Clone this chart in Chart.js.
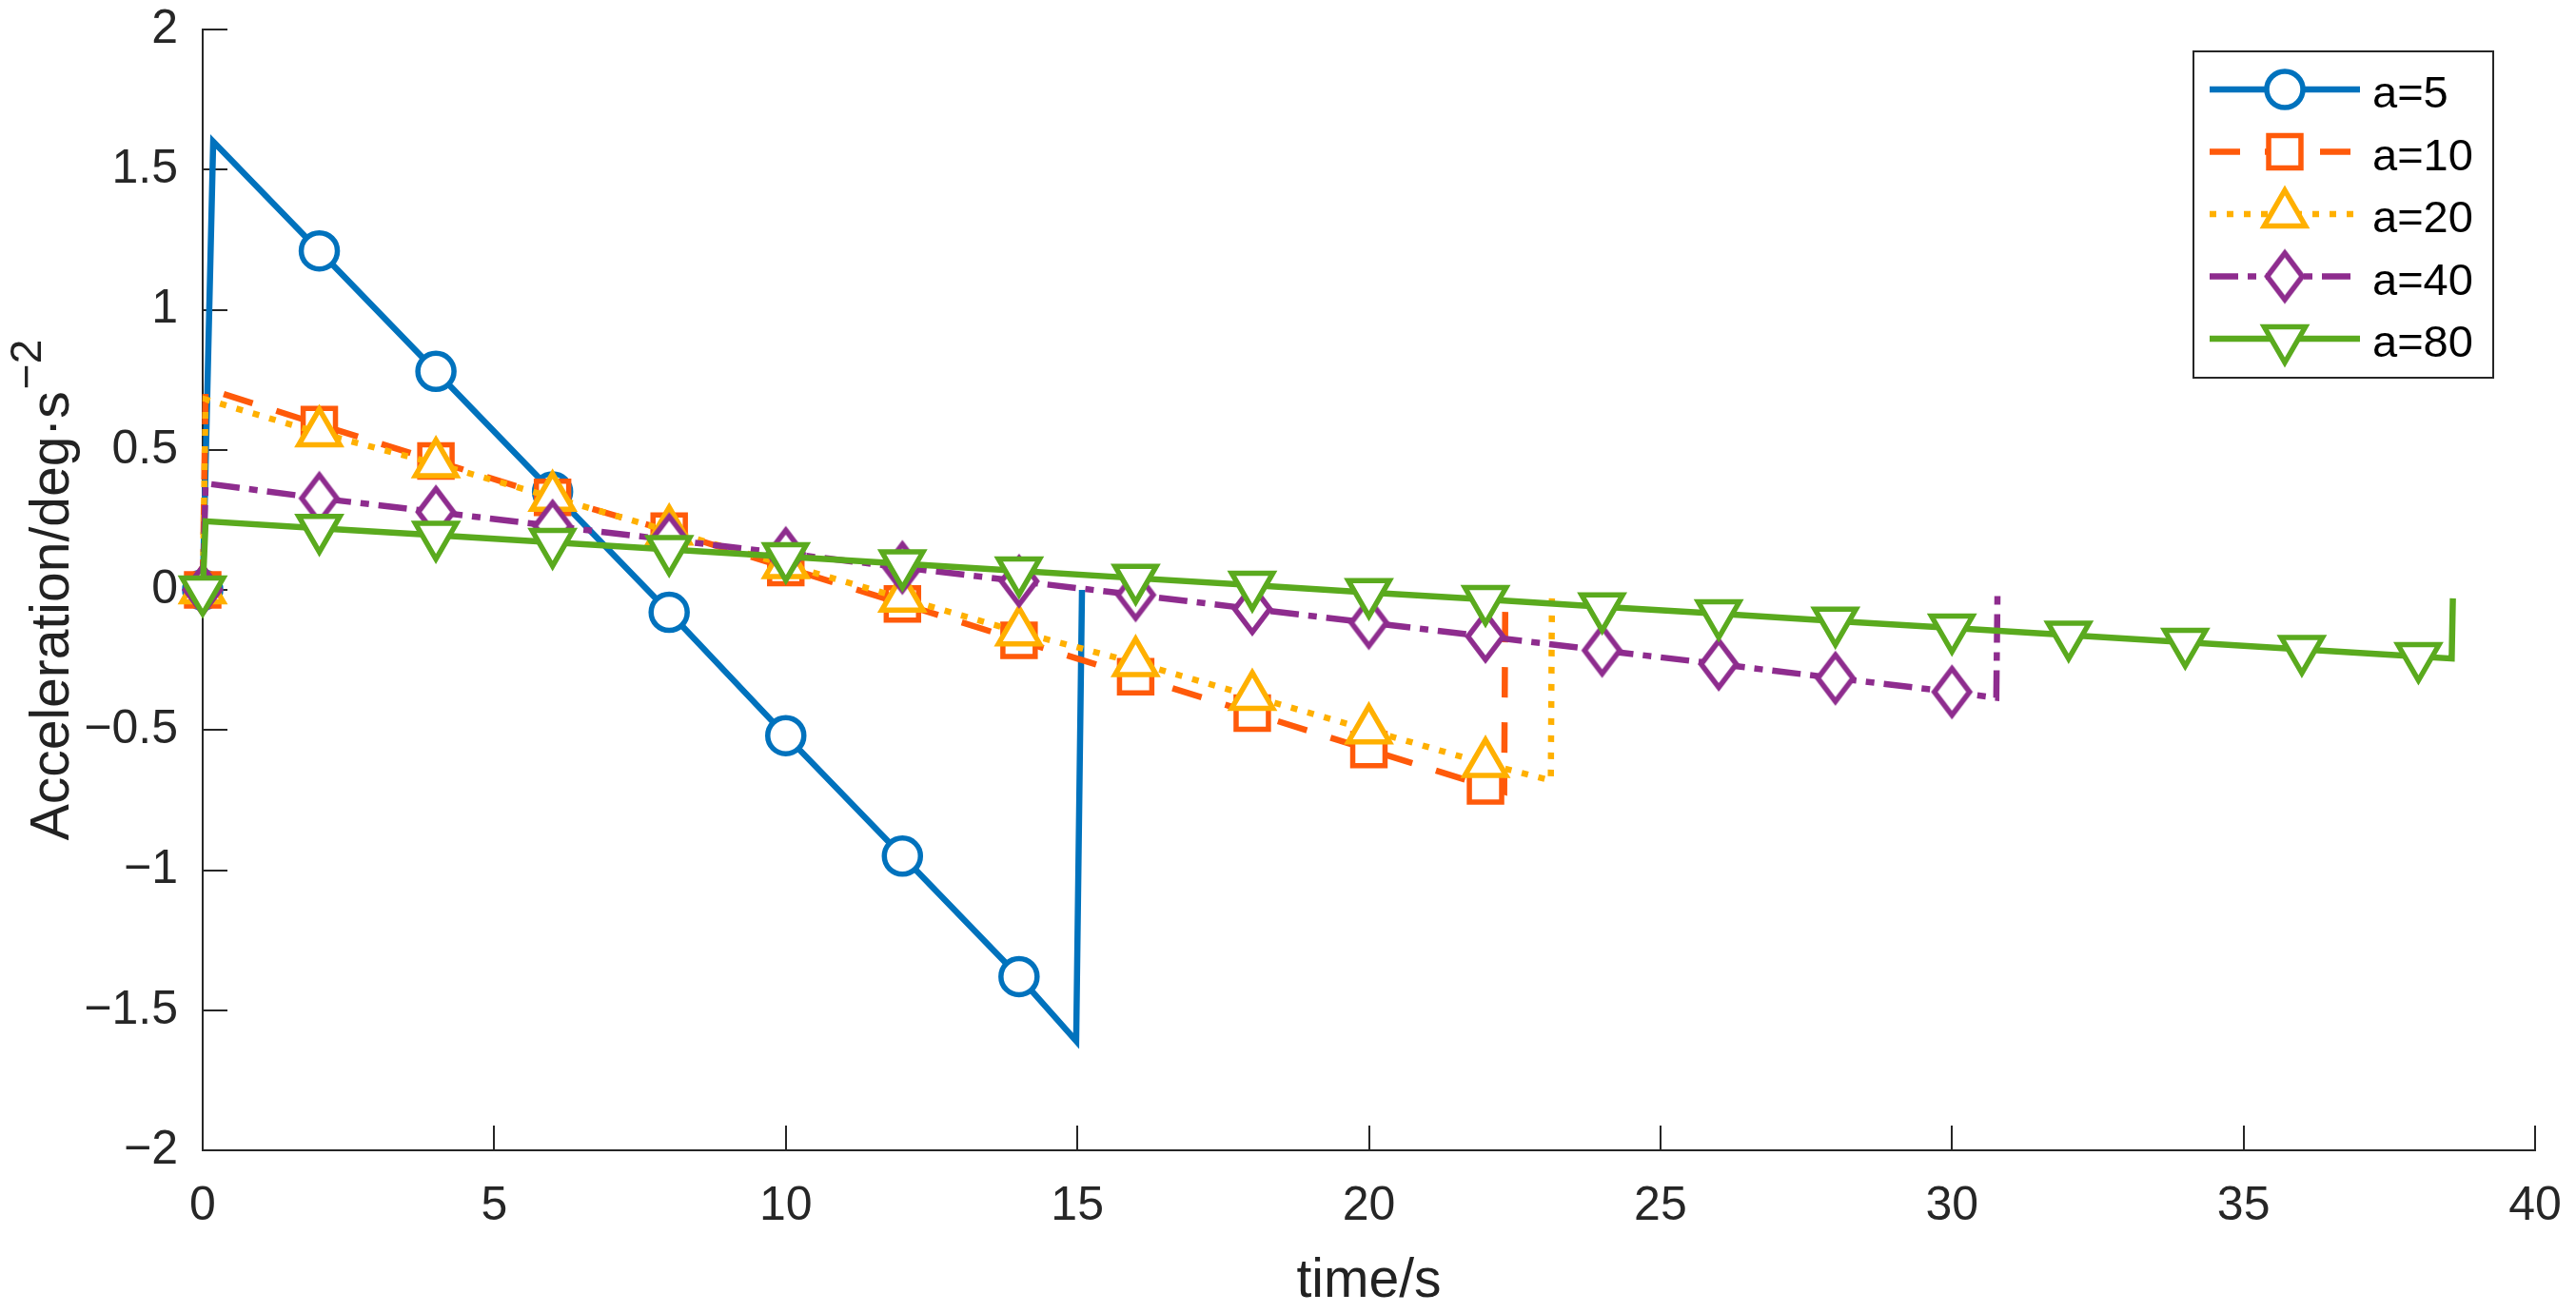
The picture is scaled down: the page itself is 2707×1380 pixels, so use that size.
<!DOCTYPE html>
<html>
<head>
<meta charset="utf-8">
<script src="https://cdn.jsdelivr.net/npm/chart.js@4.4.1/dist/chart.umd.min.js"></script>
<style>
  html, body { margin: 0; padding: 0; background: #fff; }
  #chart { display: block; }
</style>
</head>
<body>
<canvas id="chart" width="2707" height="1380"></canvas>
<script>
// Дані: час (с) та прискорення
const timeA5  = [0, 0.18, 2, 4, 6, 8, 10, 12, 14, 14.98, 15.08];
const accA5   = [0, 1.60, 1.21, 0.78, 0.35, -0.08, -0.52, -0.95, -1.38, -1.61, 0];

const timeA10 = [0, 0.05, 2, 4, 6, 8, 10, 12, 14, 16, 18, 20, 22, 22.32, 22.34];
const accA10  = [0, 0.72, 0.59, 0.46, 0.33, 0.21, 0.08, -0.05, -0.18, -0.31, -0.44, -0.57, -0.70, -0.72, 0];

const timeA20 = [0, 0.05, 2, 4, 6, 8, 10, 12, 14, 16, 18, 20, 22, 23.12, 23.14];
const accA20  = [0, 0.68, 0.56, 0.45, 0.33, 0.21, 0.09, -0.03, -0.15, -0.26, -0.38, -0.50, -0.62, -0.68, -0.01];

const timeA40 = [0, 0.05, 2, 4, 6, 8, 10, 12, 14, 16, 18, 20, 22, 24, 26, 28, 30, 30.76, 30.78];
const accA40  = [0, 0.38, 0.327, 0.278, 0.228, 0.179, 0.130, 0.080, 0.031, -0.018, -0.068, -0.117, -0.166, -0.216, -0.265, -0.315, -0.364, -0.385, -0.02];

const timeA80 = [0, 0.05, 2, 4, 6, 8, 10, 12, 14, 16, 18, 20, 22, 24, 26, 28, 30, 32, 34, 36, 38, 38.57, 38.59];
const accA80  = [0, 0.245, 0.22, 0.195, 0.17, 0.144, 0.119, 0.093, 0.068, 0.042, 0.017, -0.009, -0.034, -0.06, -0.085, -0.111, -0.136, -0.161, -0.187, -0.212, -0.238, -0.245, -0.03];

const seriesLabels = ["a=5", "a=10", "a=20", "a=40", "a=80"];
const seriesTimes  = [timeA5, timeA10, timeA20, timeA40, timeA80];
const seriesValues = [accA5, accA10, accA20, accA40, accA80];

const xTickStep = 5;
const yTickStep = 0.5;

// Оформлення
const colors = ["#0072BD", "#FF5A0A", "#FFB000", "#8E2C8E", "#5AAA1E"];
const dashes = [[], [32, 26], [7, 11], [30, 10, 9, 10], []];
const markers = ["circle", "rect", "triangle", "diamond", "triangleDown"];
const FONT = "'Liberation Sans', Arial, Helvetica, sans-serif";
const AXIS_COLOR = "#262626";
const LINE_W = 6.5;
const MARK_W = 5.5;

function makeDiamond(color) {
    const c = document.createElement("canvas");
    c.width = 52;
    c.height = 66;
    const g = c.getContext("2d");
    g.lineWidth = MARK_W;
    g.strokeStyle = color;
    g.fillStyle = "#fff";
    g.beginPath();
    g.moveTo(26, 33 - 24.5);
    g.lineTo(26 + 18.5, 33);
    g.lineTo(26, 33 + 24.5);
    g.lineTo(26 - 18.5, 33);
    g.closePath();
    g.fill();
    g.stroke();
    return c;
}
const diamondImg = makeDiamond(colors[3]);

function isMarkerTime(t) {
    return Number.isInteger(t) && t % 2 === 0;
}

const markerSize = { circle: 19, rect: 24, triangle: 25, triangleDown: 25, diamond: 20 };

const datasets = seriesLabels.map((label, i) => {
    const kind = markers[i];
    let style = kind;
    let rotation = 0;
    if (kind === "diamond") style = diamondImg;
    if (kind === "triangleDown") { style = "triangle"; rotation = 180; }
    return {
        label: label,
        data: seriesTimes[i].map((t, k) => ({ x: t, y: seriesValues[i][k] })),
        borderColor: colors[i],
        borderWidth: LINE_W,
        borderDash: dashes[i],
        borderCapStyle: "butt",
        borderJoinStyle: "miter",
        fill: false,
        tension: 0,
        clip: false,
        order: seriesLabels.length - 1 - i,
        pointStyle: style,
        pointRotation: rotation,
        pointBackgroundColor: "#fff",
        pointBorderColor: colors[i],
        pointBorderWidth: MARK_W,
        pointRadius: ctx => (ctx.raw && isMarkerTime(ctx.raw.x)) ? markerSize[kind] : 0,
        pointHoverRadius: 0
    };
});

function fmtTick(v) {
    return v < 0 ? "\u2212" + Math.abs(v) : String(v);
}

function drawMarker(ctx, kind, color, x, y) {
    if (kind === "diamond") {
        ctx.drawImage(diamondImg, x - diamondImg.width / 2, y - diamondImg.height / 2);
        return;
    }
    const r = markerSize[kind];
    ctx.save();
    ctx.lineWidth = MARK_W;
    ctx.strokeStyle = color;
    ctx.fillStyle = "#fff";
    ctx.setLineDash([]);
    ctx.beginPath();
    if (kind === "circle") {
        ctx.arc(x, y, r, 0, Math.PI * 2);
    } else if (kind === "rect") {
        const s = r * Math.SQRT1_2;
        ctx.rect(x - s, y - s, 2 * s, 2 * s);
    } else if (kind === "triangle") {
        ctx.moveTo(x, y - r);
        ctx.lineTo(x + r * 0.866, y + r / 2);
        ctx.lineTo(x - r * 0.866, y + r / 2);
        ctx.closePath();
    } else if (kind === "triangleDown") {
        ctx.moveTo(x, y + r);
        ctx.lineTo(x + r * 0.866, y - r / 2);
        ctx.lineTo(x - r * 0.866, y - r / 2);
        ctx.closePath();
    }
    ctx.fill();
    ctx.stroke();
    ctx.restore();
}

// Підписи осей та легенда в рамці
const decorPlugin = {
    id: "decor",
    afterDraw(chart) {
        const ctx = chart.ctx;
        const area = chart.chartArea;
        ctx.save();
        ctx.fillStyle = "#222";

        // підпис осі X
        ctx.font = "57px " + FONT;
        ctx.textAlign = "center";
        ctx.textBaseline = "alphabetic";
        ctx.fillText("time/s", (area.left + area.right) / 2, 1363);

        // підпис осі Y з верхнім індексом
        const mainText = "Acceleration/deg\u00B7s";
        const supText = "\u22122";
        ctx.font = "57px " + FONT;
        const wMain = ctx.measureText(mainText).width;
        ctx.font = "46px " + FONT;
        const wSup = ctx.measureText(supText).width;
        const total = wMain + wSup + 2;
        ctx.save();
        ctx.translate(72, (area.top + area.bottom) / 2);
        ctx.rotate(-Math.PI / 2);
        ctx.textAlign = "left";
        ctx.font = "57px " + FONT;
        ctx.fillText(mainText, -total / 2, 0);
        ctx.font = "46px " + FONT;
        ctx.fillText(supText, -total / 2 + wMain + 2, -29);
        ctx.restore();

        // легенда
        const boxL = area.right - 359, boxT = 54, boxW = 315, boxH = 343;
        ctx.fillStyle = "#fff";
        ctx.fillRect(boxL, boxT, boxW, boxH);
        ctx.strokeStyle = AXIS_COLOR;
        ctx.lineWidth = 2;
        ctx.strokeRect(boxL, boxT, boxW, boxH);

        const rowTop = boxT + 40, rowStep = 65.5;
        const lineX1 = boxL + 17, lineX2 = boxL + 175, markX = boxL + 96, textX = boxL + 188;
        seriesLabels.forEach((label, i) => {
            const y = rowTop + i * rowStep;
            ctx.save();
            ctx.strokeStyle = colors[i];
            ctx.lineWidth = LINE_W;
            ctx.lineCap = "butt";
            ctx.setLineDash(dashes[i]);
            ctx.beginPath();
            ctx.moveTo(lineX1, y);
            ctx.lineTo(lineX2, y);
            ctx.stroke();
            ctx.restore();
            drawMarker(ctx, markers[i], colors[i], markX, y);
            ctx.fillStyle = "#000";
            ctx.font = "47px " + FONT;
            ctx.textAlign = "left";
            ctx.textBaseline = "alphabetic";
            ctx.fillText(label, textX, y + 19);
        });
        ctx.restore();
    }
};

// фіксуємо розміри осей, щоб область графіка збігалася з оригіналом
function fixSize(prop, size) {
    return scale => {
        scale[prop] = size;
        scale.paddingTop = 0;
        scale.paddingBottom = 0;
        scale.paddingLeft = 0;
        scale.paddingRight = 0;
    };
}

const ctx = document.getElementById("chart").getContext("2d");
new Chart(ctx, {
    type: "line",
    data: { datasets: datasets },
    plugins: [decorPlugin],
    options: {
        responsive: false,
        devicePixelRatio: 1,
        animation: false,
        events: [],
        layout: { padding: { left: 0, top: 31, right: 43, bottom: 0 } },
        plugins: {
            legend: { display: false },
            tooltip: { enabled: false }
        },
        scales: {
            x: {
                type: "linear",
                min: 0,
                max: 40,
                afterFit: fixSize("height", 171),
                ticks: {
                    stepSize: xTickStep,
                    color: AXIS_COLOR,
                    font: { family: FONT, size: 50 },
                    padding: 55,
                    maxRotation: 0,
                    callback: fmtTick
                },
                grid: {
                    drawOnChartArea: false,
                    tickLength: -26,
                    color: AXIS_COLOR,
                    lineWidth: 2
                },
                border: { color: AXIS_COLOR, width: 2 }
            },
            y: {
                type: "linear",
                min: -2,
                max: 2,
                afterFit: fixSize("width", 213),
                ticks: {
                    stepSize: yTickStep,
                    color: AXIS_COLOR,
                    font: { family: FONT, size: 50 },
                    padding: 52,
                    callback: fmtTick
                },
                grid: {
                    drawOnChartArea: false,
                    tickLength: -26,
                    color: AXIS_COLOR,
                    lineWidth: 2
                },
                border: { color: AXIS_COLOR, width: 2 }
            }
        }
    }
});
</script>
</body>
</html>
